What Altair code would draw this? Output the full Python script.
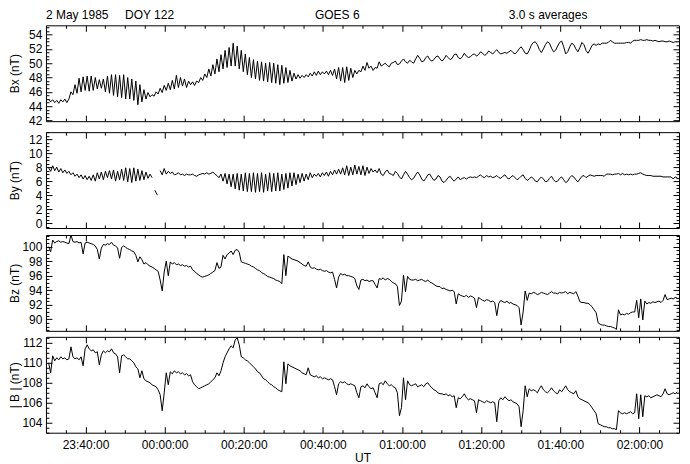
import altair as alt
import pandas as pd

# ---- sampling grid: minutes from 00:00 UT, 2 May 1985
T0 = -29.32      # first sample (~23:30:41 UT)
DT = 0.5125      # ~31 s between samples

# ---- Bx (nT)
BX = [
    45.0, 44.6, 44.9, 44.5, 44.8, 44.4, 44.9, 44.6, 45.0, 44.5,
    45.0, 46.0, 45.6, 47.0, 45.8, 47.9, 46.0, 48.1, 46.2, 48.2,
    46.1, 48.2, 46.2, 48.0, 46.4, 47.7, 46.5, 47.8, 46.0, 48.2,
    45.8, 48.4, 45.5, 48.4, 45.3, 48.3, 45.2, 48.4, 45.0, 48.0,
    45.0, 47.8, 44.8, 47.5, 44.2, 47.0, 44.6, 46.3, 45.0, 45.9,
    45.3, 45.6, 45.4, 46.0, 45.7, 46.5, 45.9, 46.9, 46.2, 47.2,
    46.3, 47.6, 46.4, 48.3, 46.6, 48.0, 46.8, 47.8, 46.6, 47.5,
    47.0, 47.4, 46.9, 47.5, 47.3, 48.0, 47.6, 48.5, 48.0, 49.2,
    48.2, 49.8, 48.5, 50.6, 48.8, 51.2, 49.2, 51.8, 49.4, 52.2,
    49.6, 52.8, 49.6, 52.4, 49.2, 51.8, 48.8, 51.3, 48.4, 50.8,
    48.0, 50.5, 47.8, 50.3, 47.6, 50.2, 47.5, 50.0, 47.4, 50.1,
    47.3, 50.0, 47.2, 49.8, 47.0, 49.7, 47.2, 49.4, 47.3, 49.0,
    47.5, 48.6, 47.8, 48.4, 47.9, 48.3, 48.0, 48.4, 48.1, 48.6,
    48.2, 48.8, 48.3, 48.9, 48.4, 48.8, 48.5, 48.9, 48.4, 49.0,
    48.3, 49.2, 47.8, 49.4, 47.5, 49.4, 47.3, 49.5, 47.6, 49.3,
    48.0, 49.0, 48.5, 49.0, 48.8, 49.6, 49.0, 50.1, 49.3, 49.6,
    49.0, 49.4, 49.3, 50.2, 49.6, 49.8, 50.0, 49.7, 49.5, 50.0,
    50.1, 50.3, 49.8, 49.9, 50.3, 50.6, 50.2, 50.0, 50.4, 50.2,
    50.0, 50.6, 51.1, 50.7, 50.2, 50.3, 50.8, 51.0, 50.5, 50.3,
    50.5, 50.9, 51.0, 50.6, 50.3, 50.6, 51.1, 50.8, 50.5, 50.7,
    51.2, 51.3, 50.8, 50.6, 50.9, 51.4, 51.0, 50.8, 50.9, 51.2,
    51.3, 51.0, 51.2, 51.6, 51.4, 51.1, 51.3, 51.7, 51.5, 51.3,
    51.6, 51.9, 51.5, 51.3, 51.4, 51.5, 51.4, 51.6, 51.8, 51.5,
    51.3, 51.6, 52.0, 52.3, 51.9, 51.4, 51.3, 51.8, 52.5, 52.9,
    53.0, 52.6, 51.9, 51.5, 52.0, 52.6, 53.0, 52.8, 52.1, 51.6,
    51.8, 52.4, 52.9, 53.1, 52.3, 51.3, 51.6, 52.3, 52.8, 52.6,
    52.0, 51.6, 52.2, 52.9, 52.6, 51.8, 51.4, 51.9, 52.5, 52.7,
    52.5, 52.7, 52.6, 52.8, 52.8, 52.8, 52.9, 53.2, 53.0, 52.8,
    52.8, 52.8, 52.8, 52.8, 52.8, 52.9, 52.9, 52.8, 53.1, 53.2,
    53.2, 53.2, 53.3, 53.2, 53.2, 53.3, 53.2, 53.2, 53.1, 53.2,
    53.1, 53.0, 53.1, 53.1, 53.0, 53.0, 53.1, 53.0, 52.9, 53.0, 53.0,
]

# ---- By (nT); None = data gap
BY = [
    7.9, 7.4, 8.2, 7.5, 8.0, 7.3, 7.8, 7.2, 7.6, 7.1,
    7.4, 6.9, 7.2, 6.7, 7.0, 6.5, 6.9, 6.3, 6.8, 6.2,
    6.7, 6.1, 6.9, 6.0, 7.2, 6.3, 7.3, 6.2, 7.4, 6.5,
    7.5, 6.3, 7.6, 6.0, 7.4, 6.2, 7.7, 6.1, 7.9, 5.9,
    7.8, 5.8, 7.9, 6.0, 7.7, 6.1, 7.5, 6.2, 7.3, 6.4,
    7.0, 6.5, None, None, None, 7.5, 6.9, 7.8, 7.0, 7.4,
    7.1, 7.3, 6.9, 7.0, 7.2, 6.9, 7.0, 6.8, 7.0, 6.9,
    6.9, 7.0, 6.8, 6.7, 6.9, 7.0, 7.1, 7.0, 7.2, 7.0,
    7.1, 7.3, 7.0, 6.8, 6.5, 7.0, 6.0, 7.1, 5.6, 7.0,
    5.2, 7.0, 4.9, 7.1, 4.7, 7.0, 4.6, 7.2, 4.5, 7.1,
    4.5, 7.2, 4.4, 7.1, 4.5, 7.2, 4.4, 7.0, 4.6, 7.2,
    4.5, 7.1, 4.6, 7.2, 4.6, 7.0, 4.8, 7.1, 5.0, 7.2,
    5.3, 7.2, 5.5, 7.0, 5.8, 7.1, 6.0, 7.0, 6.2, 7.2,
    6.5, 7.0, 6.7, 7.1, 6.6, 7.2, 6.8, 7.3, 6.7, 7.4,
    6.9, 7.6, 7.0, 7.7, 7.0, 7.9, 6.9, 8.2, 6.8, 8.0,
    6.9, 8.3, 7.0, 8.1, 6.9, 8.2, 6.8, 8.0, 7.1, 7.8,
    7.3, 7.6, 7.2, 7.8, 7.0, 6.8, 7.3, 7.6, 7.1, 7.0,
    6.8, 7.4, 7.1, 6.6, 6.3, 6.9, 7.4, 7.0, 6.5, 6.2,
    6.4, 6.9, 7.3, 6.9, 6.3, 6.0, 6.4, 6.9, 7.0, 6.5,
    6.1, 6.3, 6.8, 6.6, 6.0, 5.8, 6.1, 6.5, 6.7, 6.3,
    6.0, 6.3, 6.6, 6.2, 6.4, 6.5, 6.3, 6.5, 6.6, 6.5,
    6.6, 6.5, 6.7, 6.9, 6.6, 6.5, 6.8, 6.6, 6.7, 6.5,
    6.6, 6.8, 6.5, 6.4, 6.7, 6.9, 6.5, 6.3, 6.6, 6.8,
    6.5, 6.2, 6.4, 6.7, 6.9, 6.4, 6.1, 6.3, 6.6, 6.4,
    6.0, 5.9, 6.3, 6.6, 6.3, 5.9, 6.0, 6.4, 6.7, 6.2,
    5.9, 6.0, 6.4, 6.6, 6.2, 5.8, 6.0, 6.5, 6.8, 6.6,
    6.2, 5.9, 6.3, 6.7, 6.8, 6.5, 6.7, 6.9, 6.8, 6.7,
    6.8, 6.8, 6.8, 6.8, 6.7, 7.0, 7.0, 7.0, 6.9, 7.0,
    7.0, 7.1, 6.9, 7.1, 6.9, 7.0, 6.9, 7.0, 6.9, 7.0,
    7.0, 7.1, 7.2, 7.0, 6.9, 6.8, 6.8, 6.8, 6.7, 6.7,
    6.7, 6.7, 6.7, 6.6, 6.6, 6.6, 6.6, 6.6, 6.3, 6.6, 6.5,
]

# isolated By fragment inside the gap
GLITCH_T = [-2.46, -1.85]
GLITCH_BY = [4.7, 4.0]

# ---- Bz (nT)
BZ = [
    100.0, 99.3, 100.9, 100.5, 100.7, 100.8, 100.6, 100.7, 100.6, 100.5,
    100.4, 101.6, 100.7, 100.6, 100.7, 100.5, 100.6, 99.0, 100.5, 100.6,
    100.5, 100.4, 100.3, 100.1, 99.6, 98.3, 99.8, 100.3, 100.2, 100.4,
    100.3, 100.6, 100.2, 100.1, 99.8, 98.4, 99.9, 100.1, 99.9, 99.7,
    99.6, 99.4, 99.3, 98.8, 97.9, 98.6, 98.2, 97.6, 97.8, 97.5,
    97.3, 97.2, 97.0, 96.8, 96.6, 95.4, 93.9, 96.5, 98.0, 96.0,
    97.9, 97.6, 97.8, 97.5, 97.6, 97.4, 97.5, 97.3, 97.4, 97.2,
    97.3, 96.8, 96.6, 96.3, 96.1, 95.9, 95.8, 95.9, 96.0, 96.1,
    96.3, 96.5, 96.7, 97.8, 97.0, 97.2, 98.8, 98.3, 98.9, 99.1,
    99.4, 98.9, 99.5, 99.6, 99.2, 97.9, 97.8, 97.7, 97.6, 97.5,
    97.3, 97.2, 97.0, 96.8, 96.7, 96.4, 96.3, 96.1, 95.9, 95.8,
    95.7, 95.6, 95.4, 95.3, 95.2, 94.9, 98.9, 96.0, 98.7, 98.5,
    98.3, 98.2, 98.1, 98.0, 97.8, 97.6, 97.4, 97.3, 97.9, 97.2,
    97.0, 97.1, 96.9, 96.8, 96.9, 96.7, 96.6, 96.7, 96.5, 96.4,
    96.5, 95.5, 94.3, 95.8, 96.3, 96.1, 96.2, 96.0, 96.0, 95.9,
    95.8, 95.6, 94.6, 94.1, 95.4, 95.5, 95.3, 95.4, 95.2, 95.3,
    95.3, 94.8, 94.3, 95.6, 95.5, 95.7, 95.4, 95.6, 95.5, 95.2,
    95.0, 94.9, 94.5, 91.9, 92.5, 96.1, 93.8, 95.9, 95.5, 95.4,
    95.4, 95.5, 95.3, 95.4, 95.5, 95.3, 95.2, 95.4, 95.1, 95.0,
    94.8, 94.6, 94.5, 94.5, 94.2, 94.3, 94.1, 94.0, 93.9, 94.0,
    93.8, 92.1, 93.5, 93.3, 93.2, 93.1, 93.3, 93.0, 93.2, 93.1,
    92.9, 91.6, 93.0, 92.8, 92.6, 92.5, 92.7, 92.6, 92.4, 92.5,
    92.3, 90.5, 92.2, 92.6, 92.4, 92.3, 92.5, 92.2, 92.3, 92.1,
    92.0, 91.9, 91.6, 89.2, 91.0, 93.9, 92.6, 93.6, 93.5, 93.7,
    93.6, 93.4, 93.5, 93.7, 93.6, 93.5, 93.4, 93.6, 93.8, 93.6,
    93.6, 93.5, 93.7, 93.6, 93.7, 93.8, 93.5, 93.7, 93.6, 93.5,
    93.8, 93.2, 92.4, 92.3, 92.3, 92.2, 92.2, 92.0, 91.7, 91.3,
    90.9, 89.5, 89.3, 89.2, 89.2, 89.1, 89.0, 89.0, 88.9, 88.8,
    88.6, 91.3, 90.6, 90.7, 90.6, 90.8, 90.7, 90.9, 91.0, 91.0,
    92.6, 90.2, 92.8, 89.9, 92.5, 92.1, 92.3, 92.2, 92.4, 92.3,
    92.4, 92.5, 92.3, 92.6, 93.4, 92.7, 92.8, 92.9, 92.8, 93.0, 92.9,
]

# ---- |B| (nT)
BT = [
    110.0, 109.0, 110.7, 110.2, 110.5, 110.3, 110.6, 110.4, 110.5, 110.3,
    110.4, 111.6, 110.6, 110.4, 110.5, 110.3, 110.6, 109.7, 111.4, 111.8,
    111.4, 111.2, 111.3, 111.0, 111.1, 109.8, 110.8, 111.2, 111.0, 111.2,
    111.1, 111.4, 111.0, 110.9, 110.6, 109.0, 110.7, 110.8, 110.6, 110.4,
    110.4, 110.2, 110.0, 109.6, 109.4, 108.5, 109.2, 108.4, 108.2, 108.1,
    108.0, 107.8, 107.7, 107.6, 107.3, 106.8, 105.2, 107.0, 109.0, 107.8,
    109.1, 108.9, 109.2, 109.0, 109.1, 108.9, 109.0, 108.8, 108.9, 108.7,
    108.8, 108.1, 107.8, 107.6, 107.4, 107.5, 107.6, 107.7, 107.8, 107.9,
    108.1, 108.3, 108.5, 109.0, 108.7, 109.2, 110.0, 110.6, 111.0, 111.4,
    111.7, 111.5, 112.3, 112.5, 111.8, 110.6, 110.5, 110.3, 110.2, 110.0,
    109.8, 109.6, 109.4, 109.1, 109.0, 108.7, 108.4, 108.3, 108.1, 107.9,
    107.8, 107.6, 107.5, 107.3, 107.2, 107.1, 110.1, 107.9, 109.9, 109.7,
    109.6, 109.5, 109.4, 109.3, 109.2, 109.0, 108.9, 108.8, 109.5, 108.8,
    108.7, 108.6, 108.7, 108.5, 108.6, 108.4, 108.5, 108.4, 108.3, 108.4,
    108.3, 107.6, 106.8, 107.9, 108.1, 108.0, 108.1, 107.9, 107.8, 107.9,
    107.8, 107.7, 107.0, 106.5, 107.6, 107.7, 107.5, 107.9, 107.6, 107.4,
    107.5, 107.0, 106.5, 107.9, 108.0, 107.8, 108.2, 107.9, 107.7, 107.8,
    107.6, 107.5, 107.0, 104.7, 105.5, 108.5, 106.3, 108.2, 107.8, 107.7,
    107.8, 107.9, 107.6, 107.7, 107.8, 107.6, 107.9, 108.0, 107.7, 107.5,
    107.3, 107.2, 107.0, 106.9, 106.9, 106.8, 106.9, 106.7, 106.8, 106.6,
    106.7, 105.5, 106.5, 106.4, 106.6, 106.9, 106.5, 106.3, 106.4, 106.3,
    106.2, 105.0, 106.3, 106.2, 106.1, 106.0, 106.2, 106.1, 106.0, 106.1,
    106.0, 104.1, 106.2, 106.5, 106.3, 106.6, 106.4, 106.2, 106.3, 106.1,
    106.0, 105.9, 105.6, 103.6, 105.2, 107.7, 106.6, 107.4, 107.2, 107.3,
    107.2, 107.0, 107.4, 107.7, 107.3, 107.1, 107.0, 107.2, 107.5, 107.2,
    107.0, 106.9, 107.3, 107.1, 107.4, 107.7, 107.3, 107.1, 107.0, 106.9,
    107.2, 106.6, 106.4, 106.3, 106.2, 106.1, 106.0, 105.8, 105.5, 105.2,
    104.9, 103.9, 103.8, 103.7, 103.6, 103.6, 103.5, 103.5, 103.4, 103.4,
    103.3, 105.2, 105.0, 104.9, 105.0, 104.9, 105.0, 105.1, 104.9, 105.0,
    106.9, 104.4, 106.8, 104.6, 106.7, 106.6, 106.7, 106.5, 106.6, 106.7,
    106.8, 106.7, 106.6, 106.9, 107.4, 106.9, 106.8, 106.9, 107.0, 106.9, 107.1,
]

# ---- axis ticks (minutes from 00:00 UT) and header texts
X_MAJOR = [-20, 0, 20, 40, 60, 80, 100, 120]
X_MINOR = [m for m in range(-25, 130, 5) if m % 20 != 0]
HEADER_TEXT = ["2 May 1985", "DOY 122", "GOES 6", "3.0 s averages"]
HEADER_T = [-30, -10, 38, 87]

W, H = 634, 96
FONT = "Liberation Sans"
LABEL_EXPR = "timeFormat(datetime(1985, 4, 2, 0, datum.value, 0), '%H:%M:%S')"
xscale = alt.Scale(domain=[-30, 130], nice=False, zero=False)


def series(values):
    return pd.DataFrame({"t": [T0 + DT * i for i in range(len(values))], "v": values})


def half_steps(lo, hi, major_step):
    out = []
    v = lo
    while v <= hi + 1e-9:
        if abs((v / major_step) - round(v / major_step)) > 1e-6:
            out.append(round(v, 2))
        v += 0.5
    return out


def panel(data, title, ydomain, ymajor, yminor, bottom=False, extra=()):
    yscale = alt.Scale(domain=ydomain, nice=False, zero=False)
    if bottom:
        xenc = alt.X("t:Q", scale=xscale, axis=alt.Axis(
            orient="bottom", values=X_MAJOR, labelExpr=LABEL_EXPR, ticks=False,
            domain=False, grid=False, labelPadding=7, title="UT", titlePadding=2))
    else:
        xenc = alt.X("t:Q", scale=xscale, axis=None)
    yaxis = alt.Axis(orient="left", values=ymajor, ticks=False, domain=False,
                     grid=False, labelPadding=4, title=title, titleX=-24,
                     titleY=H / 2)
    main = alt.Chart(data).mark_line(color="black", strokeWidth=1, clip=True).encode(
        x=xenc, y=alt.Y("v:Q", scale=yscale, axis=yaxis))
    # one invisible point in the middle of the panel, only to carry the tick axes
    tiny = pd.DataFrame({"t": [50], "v": [(ydomain[0] + ydomain[1]) / 2]})

    def ticks(ox, oy, xv, yv, size):
        return alt.Chart(tiny).mark_point(opacity=0, size=1).encode(
            x=alt.X("t:Q", scale=xscale, axis=alt.Axis(
                orient=ox, offset=-H, values=xv, labels=False, domain=False,
                grid=False, tickSize=size, tickColor="black", tickWidth=1, title="")),
            y=alt.Y("v:Q", scale=yscale, axis=alt.Axis(
                orient=oy, offset=-W, values=yv, labels=False, domain=False,
                grid=False, tickSize=size, tickColor="black", tickWidth=1, title="")))

    layers = [main,
              ticks("bottom", "right", X_MAJOR, ymajor, 6),
              ticks("top", "left", X_MAJOR, ymajor, 6),
              ticks("bottom", "right", X_MINOR, yminor, 3),
              ticks("top", "left", X_MINOR, yminor, 3)]
    for e in extra:
        layers.append(e(yscale))
    return alt.layer(*layers).resolve_axis(x="independent", y="independent").properties(
        width=W, height=H)


def header_layer(yscale):
    hdr = pd.DataFrame({"t": HEADER_T, "s": HEADER_TEXT})
    return alt.Chart(hdr).mark_text(align="left", baseline="alphabetic", fontSize=12,
                                    font=FONT, color="black").encode(
        x=alt.X("t:Q", scale=xscale, axis=None), y=alt.value(-6), text="s:N")


def glitch_layer(yscale):
    g = pd.DataFrame({"t": GLITCH_T, "v": GLITCH_BY})
    return alt.Chart(g).mark_line(color="black", strokeWidth=1).encode(
        x=alt.X("t:Q", scale=xscale, axis=None),
        y=alt.Y("v:Q", scale=yscale, axis=None))


p1 = panel(series(BX), "Bx (nT)", [41.9, 55.3], list(range(42, 55, 2)),
           half_steps(42, 55, 2), extra=(header_layer,))
p2 = panel(series(BY), "By (nT)", [-0.7, 13.0], list(range(0, 13, 2)),
           half_steps(-0.5, 13, 2), extra=(glitch_layer,))
p3 = panel(series(BZ), "Bz (nT)", [88.4, 101.6], list(range(90, 101, 2)),
           half_steps(88.5, 101.5, 2))
p4 = panel(series(BT), "| B | (nT)", [103.0, 112.6], list(range(104, 113, 2)),
           half_steps(103, 112.5, 2), bottom=True)

chart = alt.vconcat(p1, p2, p3, p4, spacing=4).properties(
    padding={"left": 0, "top": 0, "right": 2, "bottom": 0},
    background="white",
).configure_view(stroke="black", strokeWidth=1).configure_axis(
    labelFont=FONT, titleFont=FONT, labelFontSize=12, titleFontSize=12,
    labelColor="black", titleColor="black", titleFontWeight="normal")

chart.save("out.html", embed_options={"renderer": "svg", "actions": False})
